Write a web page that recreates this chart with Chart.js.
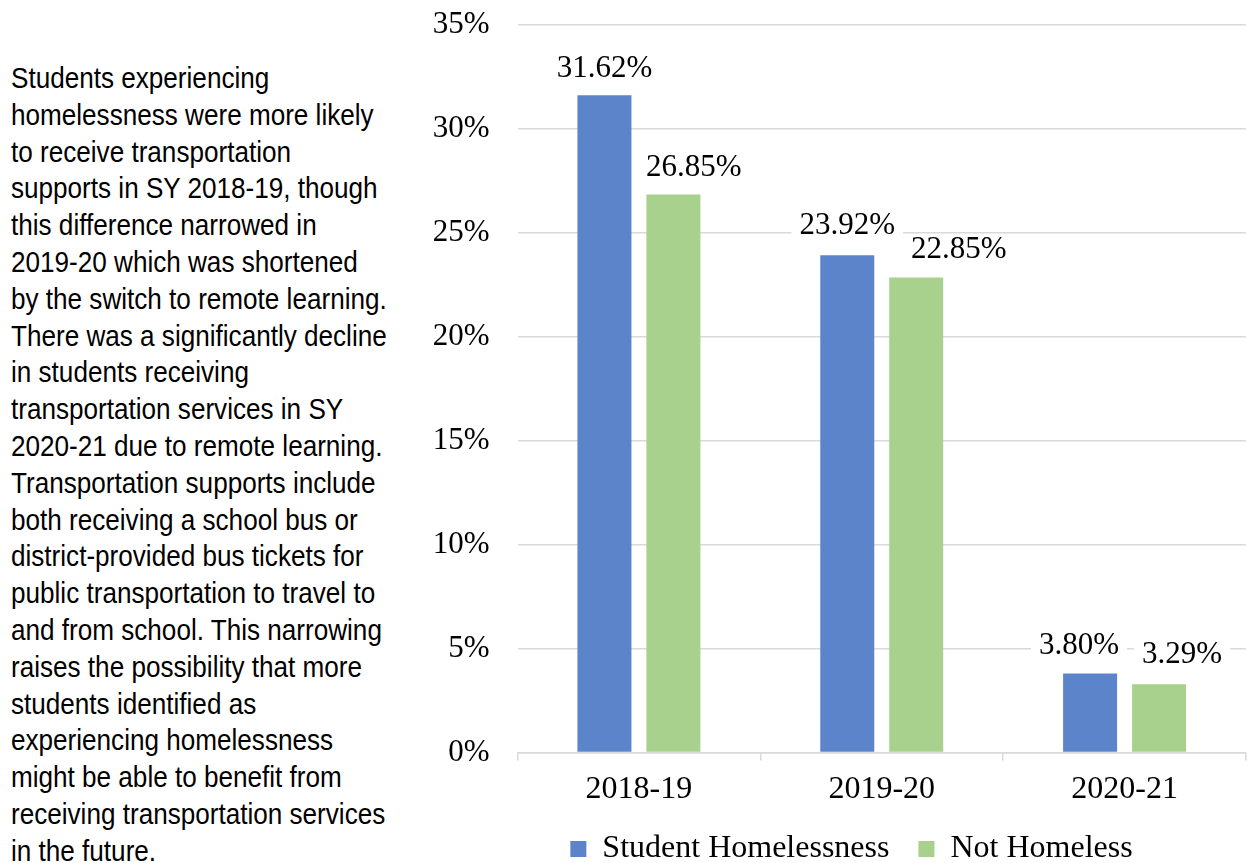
<!DOCTYPE html>
<html lang="en">
<head>
    <meta charset="UTF-8">
    <meta name="viewport" content="width=device-width, initial-scale=1.0">
    <title>Transportation Supports by Homelessness Status</title>
    <script src="https://cdn.jsdelivr.net/npm/chart.js"></script>
    <style>
        body {
            margin: 0;
            background: #fff;
            width: 1248px;
            height: 863px;
            overflow: hidden;
            position: relative;
        }
        .summary {
            position: absolute;
            left: 11px;
            top: 60px;
            font-family: 'Liberation Sans', Arial, sans-serif;
            font-size: 29px;
            line-height: 36.8px;
            color: #000;
            white-space: nowrap;
            transform: scaleX(0.9);
            transform-origin: 0 0;
        }
        .chart-box {
            position: absolute;
            left: 400px;
            top: 0;
            width: 848px;
            height: 863px;
        }
    </style>
</head>
<body>
    <div class="summary">
        Students experiencing<br>
        homelessness were more likely<br>
        to receive transportation<br>
        supports in SY 2018-19, though<br>
        this difference narrowed in<br>
        2019-20 which was shortened<br>
        by the switch to remote learning.<br>
        There was a significantly decline<br>
        in students receiving<br>
        transportation services in SY<br>
        2020-21 due to remote learning.<br>
        Transportation supports include<br>
        both receiving a school bus or<br>
        district-provided bus tickets for<br>
        public transportation to travel to<br>
        and from school. This narrowing<br>
        raises the possibility that more<br>
        students identified as<br>
        experiencing homelessness<br>
        might be able to benefit from<br>
        receiving transportation services<br>
        in the future.
    </div>

    <div class="chart-box">
        <canvas id="transportChart"></canvas>
    </div>

    <script>
        // school years on the x axis
        const schoolYears = ['2018-19', '2019-20', '2020-21'];

        // share of students receiving transportation supports (%)
        const homelessPct = [31.62, 23.92, 3.80];
        const notHomelessPct = [26.85, 22.85, 3.29];

        // y axis ticks (%)
        const yTickValues = [0, 5, 10, 15, 20, 25, 30, 35];

        const serif = "'Liberation Serif', 'Times New Roman', serif";

        // value labels above each bar, on a white box so gridlines stop behind them
        const barLabels = {
            id: 'barLabels',
            afterDatasetsDraw(chart, args, opts) {
                const ctx = chart.ctx;
                ctx.save();
                ctx.font = opts.size + 'px ' + serif;
                ctx.textAlign = 'center';
                ctx.textBaseline = 'middle';
                chart.data.datasets.forEach((ds, i) => {
                    chart.getDatasetMeta(i).data.forEach((bar, j) => {
                        const text = ds.data[j].toFixed(2) + '%';
                        const shift = opts.nudge[i][j];
                        const x = bar.x + shift[0];
                        const y = bar.y + shift[1];
                        const w = ctx.measureText(text).width + 16;
                        ctx.fillStyle = '#fff';
                        ctx.fillRect(x - w / 2, y - 14, w, 28);
                        ctx.fillStyle = '#000';
                        ctx.fillText(text, x, y);
                    });
                });
                ctx.restore();
            }
        };

        // centre the legend under the plot rather than the whole canvas
        const legendShift = {
            id: 'legendShift',
            afterLayout(chart, args, opts) {
                chart.legend.left += opts.dx;
                chart.legend.right += opts.dx;
            }
        };

        const ctx = document.getElementById('transportChart').getContext('2d');
        const transportChart = new Chart(ctx, {
            type: 'bar',
            data: {
                labels: schoolYears,
                datasets: [{
                    label: 'Student Homelessness',
                    data: homelessPct,
                    backgroundColor: '#5b84cb'
                }, {
                    label: 'Not Homeless',
                    data: notHomelessPct,
                    backgroundColor: '#a9d18e'
                }]
            },
            options: {
                responsive: true,
                maintainAspectRatio: false,
                animation: false,
                categoryPercentage: 0.568,
                barPercentage: 0.783,
                layout: {
                    padding: { top: 25, right: 2, bottom: -12, left: 0 }
                },
                scales: {
                    x: {
                        afterFit: scale => {
                            scale.height -= 15;
                        },
                        grid: {
                            drawOnChartArea: false,
                            drawTicks: true,
                            tickLength: 8,
                            color: '#d9d9d9',
                            lineWidth: 1.5
                        },
                        border: { color: '#d9d9d9', width: 1.5 },
                        ticks: {
                            color: '#000',
                            padding: 10,
                            font: { family: serif, size: 32 }
                        }
                    },
                    y: {
                        min: 0,
                        max: 35,
                        afterBuildTicks: scale => {
                            scale.ticks = yTickValues.map(v => ({ value: v }));
                        },
                        afterFit: scale => {
                            scale.width = 117.5;
                            scale.paddingTop = 0;
                            scale.paddingBottom = 0;
                        },
                        grid: {
                            color: '#d9d9d9',
                            lineWidth: 1.5,
                            drawTicks: false
                        },
                        border: { display: false },
                        ticks: {
                            color: '#000',
                            padding: 28,
                            font: { family: serif, size: 31 },
                            callback: v => v + '%'
                        }
                    }
                },
                plugins: {
                    legend: {
                        position: 'bottom',
                        labels: {
                            color: '#000',
                            boxWidth: 16,
                            boxHeight: 16,
                            padding: 29,
                            font: { family: serif, size: 32 }
                        }
                    },
                    tooltip: { enabled: false },
                    barLabels: {
                        size: 31,
                        nudge: [
                            [[0, -26], [0, -29], [-11, -28]],
                            [[20.5, -27], [42.5, -28], [23, -29]]
                        ]
                    },
                    legendShift: { dx: 28.5 }
                }
            },
            plugins: [barLabels, legendShift]
        });
    </script>
</body>
</html>
